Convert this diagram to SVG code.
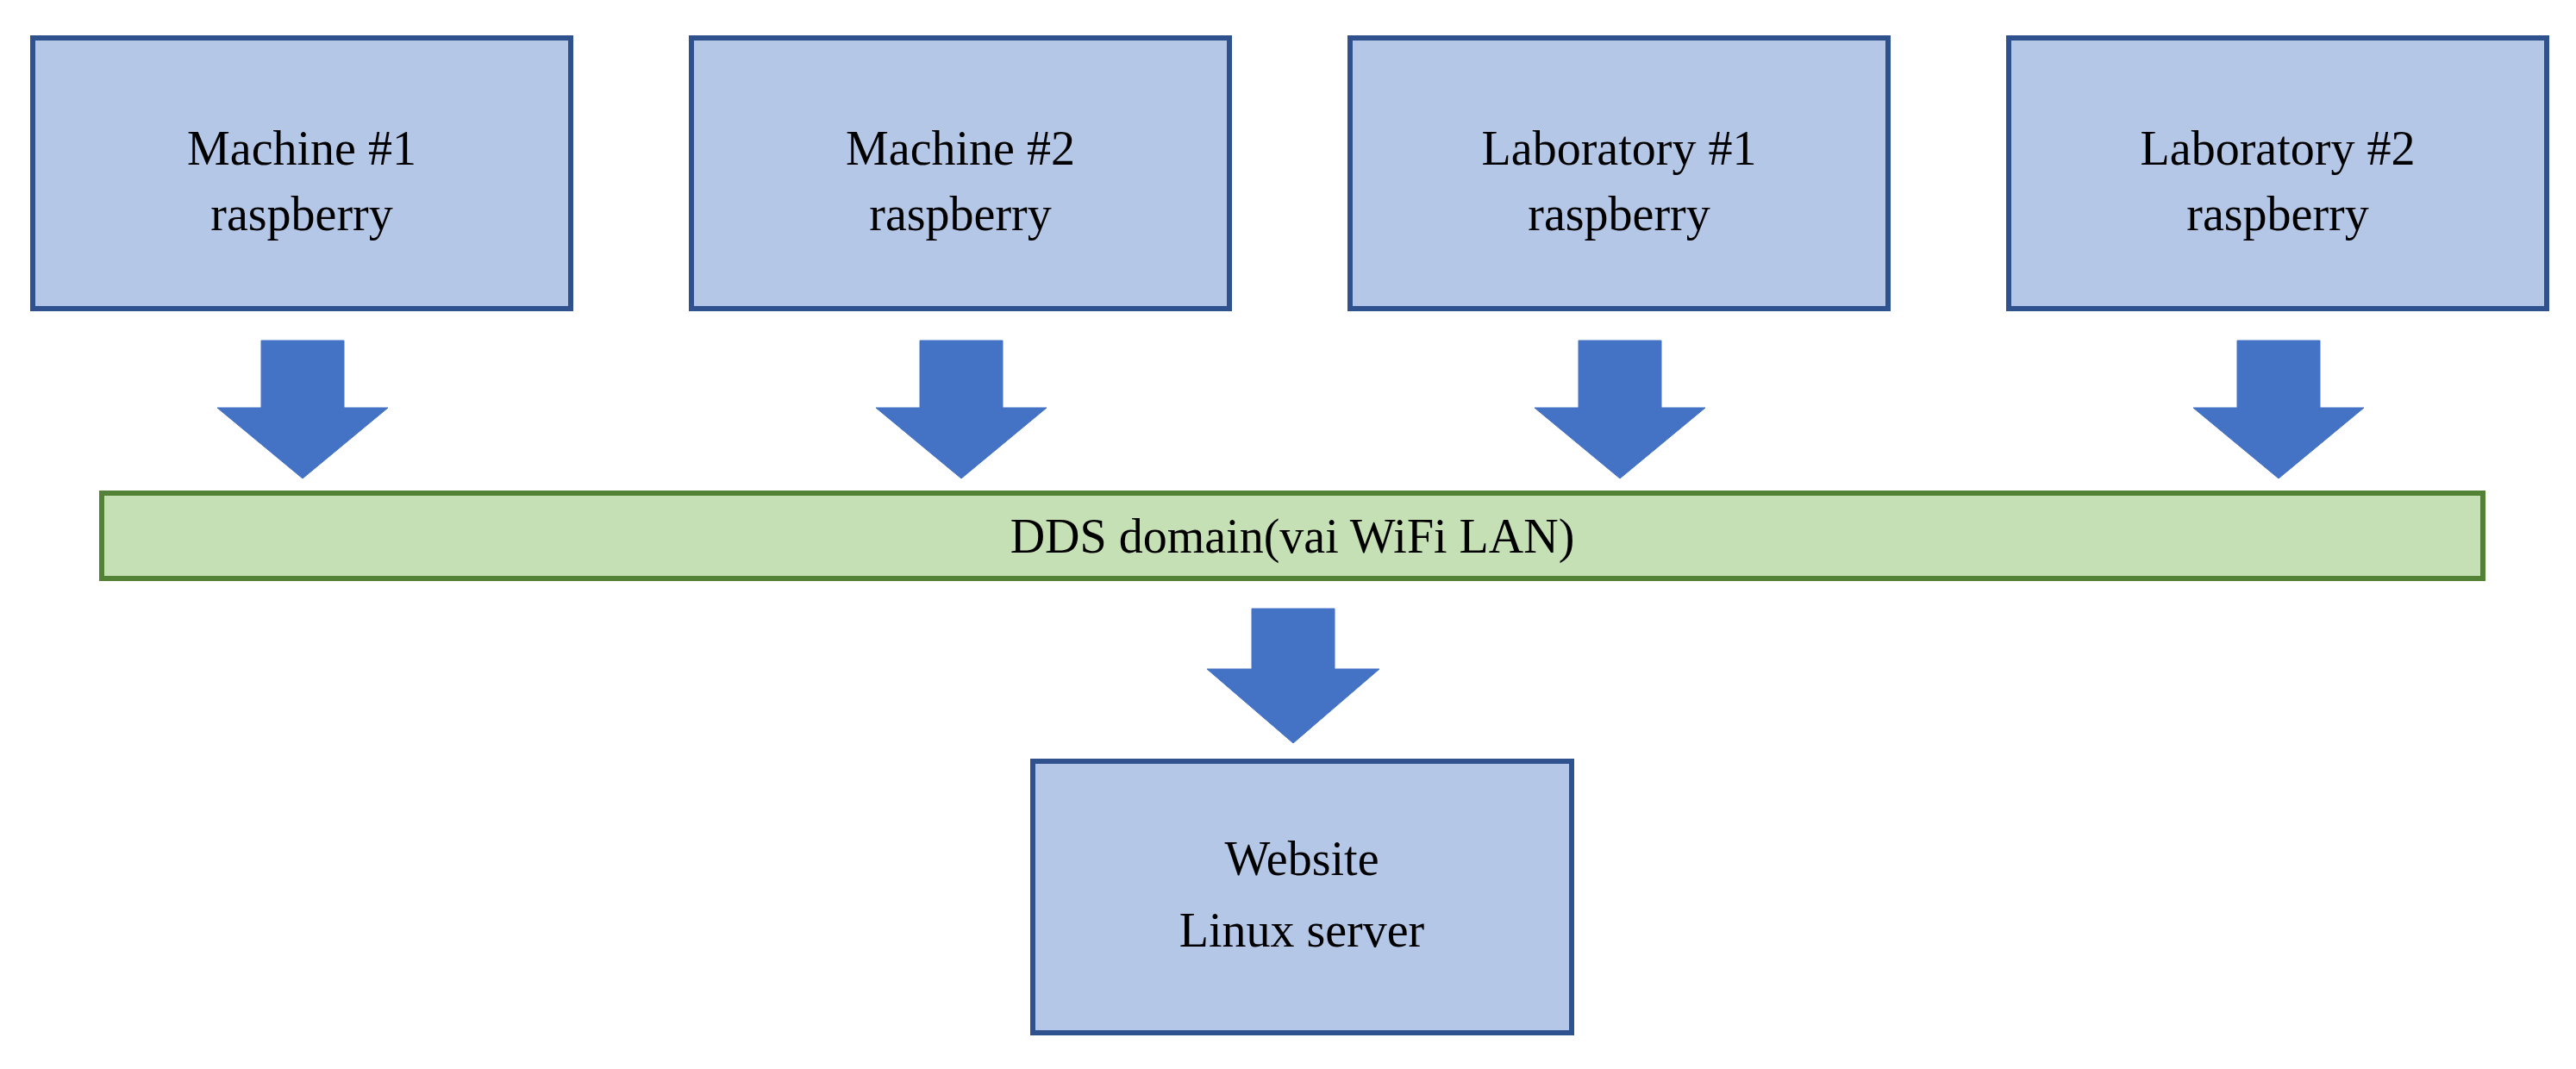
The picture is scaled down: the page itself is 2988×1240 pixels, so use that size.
<svg xmlns="http://www.w3.org/2000/svg" width="2988" height="1240" viewBox="0 0 2988 1240">
<style>
.box{fill:#B4C7E7;stroke:#2F528F;stroke-width:6}
.bar{fill:#C5E0B4;stroke:#538135;stroke-width:6}
.arr{fill:#4472C4;stroke:#4472C4;stroke-width:1}
text{font-family:"Liberation Serif","Times New Roman",serif;font-size:56px;fill:#000;text-anchor:middle}
</style>
<rect width="2988" height="1240" fill="#fff"/>
<g id="m1"><rect class="box" x="38" y="44" width="624" height="314"/><text x="350" y="191">Machine #1</text><text x="350" y="267">raspberry</text></g>
<g id="m2"><rect class="box" x="802" y="44" width="624" height="314"/><text x="1114" y="191">Machine #2</text><text x="1114" y="267">raspberry</text></g>
<g id="l1"><rect class="box" x="1566" y="44" width="624" height="314"/><text x="1878" y="191">Laboratory #1</text><text x="1878" y="267">raspberry</text></g>
<g id="l2"><rect class="box" x="2330" y="44" width="624" height="314"/><text x="2642" y="191">Laboratory #2</text><text x="2642" y="267">raspberry</text></g>
<g id="dds"><rect class="bar" x="118" y="572" width="2762" height="99"/><text x="1499" y="641">DDS domain(vai WiFi LAN)</text></g>
<g id="web"><rect class="box" x="1198" y="883" width="625" height="315"/><text x="1510" y="1015">Website</text><text x="1510" y="1098">Linux server</text></g>
<g id="connectors">
<polygon class="arr" points="303,395 399,395 399,473 450,473 351,555 252,473 303,473"/>
<polygon class="arr" points="1067,395 1163,395 1163,473 1214,473 1115,555 1016,473 1067,473"/>
<polygon class="arr" points="1831,395 1927,395 1927,473 1978,473 1879,555 1780,473 1831,473"/>
<polygon class="arr" points="2595,395 2691,395 2691,473 2742,473 2643,555 2544,473 2595,473"/>
<polygon class="arr" points="1452,706 1548,706 1548,776 1600,776 1500,862 1400,776 1452,776"/>
</g>
</svg>
